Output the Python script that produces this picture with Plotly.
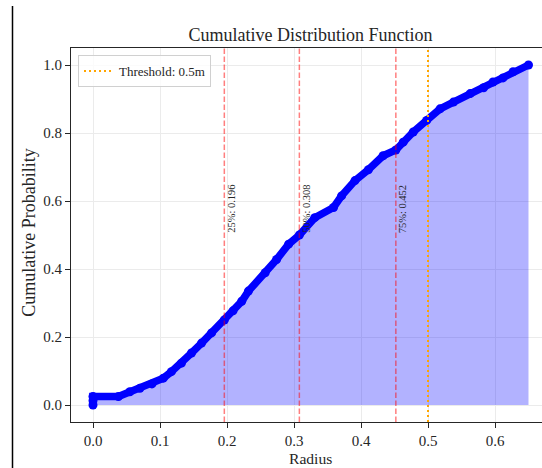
import plotly.graph_objects as go

# CDF curve
radius = [0.0, 0.0, 0.0, 0.038, 0.055, 0.070, 0.088, 0.105, 0.117, 0.132, 0.147, 0.162,
          0.177, 0.196, 0.209, 0.222, 0.232, 0.257, 0.274, 0.292, 0.308, 0.331, 0.359,
          0.371, 0.391, 0.411, 0.433, 0.452, 0.463, 0.478, 0.498, 0.518, 0.538, 0.563,
          0.583, 0.597, 0.612, 0.627, 0.650]
cum_prob = [0.0, 0.0125, 0.025, 0.025, 0.039, 0.049, 0.062, 0.079, 0.098, 0.123, 0.153, 0.182,
            0.212, 0.250, 0.277, 0.305, 0.335, 0.389, 0.428, 0.473, 0.500, 0.551, 0.581,
            0.615, 0.660, 0.692, 0.733, 0.750, 0.773, 0.803, 0.837, 0.871, 0.891, 0.916,
            0.933, 0.950, 0.962, 0.980, 1.000]

quart_labels = ["25%", "50%", "75%"]
quart_values = [0.196, 0.308, 0.452]
threshold = 0.5
x_ticks = [0.0, 0.1, 0.2, 0.3, 0.4, 0.5, 0.6]
y_ticks = [0.0, 0.2, 0.4, 0.6, 0.8, 1.0]

SERIF = "Liberation Serif, Times New Roman, serif"
TXT = "#262626"

fig = go.Figure()

# filled area
fig.add_trace(go.Scatter(x=radius, y=cum_prob, mode="lines", fill="tozeroy",
                         fillcolor="rgba(0,0,255,0.3)", line=dict(width=0),
                         showlegend=False, hoverinfo="skip"))
# thick marker curve
fig.add_trace(go.Scatter(x=radius, y=cum_prob, mode="lines+markers",
                         line=dict(color="#0000ff", width=7.5),
                         marker=dict(color="#0000ff", size=9),
                         showlegend=False))
# quartile lines
for q in quart_values:
    fig.add_trace(go.Scatter(x=[q, q], y=[-0.05, 1.05], mode="lines",
                             line=dict(color="rgba(255,0,0,0.5)", width=1.5, dash="5.5px,2.5px"),
                             showlegend=False, hoverinfo="skip"))
# threshold line
fig.add_trace(go.Scatter(x=[threshold, threshold], y=[-0.05, 1.05], mode="lines",
                         line=dict(color="#ffa500", width=2, dash="2px,3px"),
                         name=f"Threshold: {threshold}m"))

annotations = []
for lab, q in zip(quart_labels, quart_values):
    annotations.append(dict(x=q, y=0.5, xref="x", yref="y", text=f"{lab}: {q}",
                            textangle=-90, showarrow=False, xanchor="left", yanchor="bottom",
                            xshift=-1, font=dict(family=SERIF, size=10.5, color=TXT)))
# axis titles
annotations.append(dict(x=(310 - 71) / 471, y=-(458 - 422) / 374, xref="paper", yref="paper",
                        text="Radius", showarrow=False, xanchor="center", yanchor="middle",
                        font=dict(family=SERIF, size=15.6, color=TXT)))
annotations.append(dict(x=-(71 - 28.3) / 471, y=(422 - 232.5) / 374, xref="paper", yref="paper",
                        text="Cumulative Probability", showarrow=False, textangle=-90,
                        xanchor="center", yanchor="middle",
                        font=dict(family=SERIF, size=18, color=TXT)))

axis_common = dict(showline=True, linecolor="#262626", linewidth=1.2, ticks="outside",
                   ticklen=5, tickwidth=1.2, tickcolor="#262626", showgrid=True,
                   gridcolor="#ebebeb", gridwidth=1, zeroline=False,
                   tickfont=dict(family=SERIF, size=15, color=TXT))

fig.update_layout(
    width=542, height=468,
    margin=dict(l=71, r=0, t=48, b=46, pad=0),
    plot_bgcolor="white", paper_bgcolor="white",
    title=dict(text="Cumulative Distribution Function", xref="paper", x=(310.5 - 71) / 471,
               xanchor="center", yref="container", y=1 - 35 / 468, yanchor="middle",
               font=dict(family=SERIF, size=18, color=TXT)),
    xaxis=dict(range=[-22 / 670, 449 / 670], tickvals=x_ticks,
               ticktext=[f"{v:.1f}" for v in x_ticks], mirror=True, **axis_common),
    yaxis=dict(range=[-0.05, 1.05], tickvals=y_ticks,
               ticktext=[f"{v:.1f}" for v in y_ticks], mirror=False, **axis_common),
    legend=dict(x=(78 - 71) / 471, y=(422 - 55) / 374, xanchor="left", yanchor="top",
                bgcolor="rgba(255,255,255,0.8)", bordercolor="#d0d0d0", borderwidth=1,
                font=dict(family=SERIF, size=13, color=TXT), itemwidth=30,
                tracegroupgap=0),
    annotations=annotations,
    shapes=[dict(type="line", xref="paper", yref="paper",
                 x0=-(71 - 12.5) / 471, x1=-(71 - 12.5) / 471,
                 y0=(422 - 6) / 374, y1=-(468 - 422) / 374 - 0.01,
                 line=dict(color="#000000", width=1.5))],
    showlegend=True,
)

fig.write_html("out.html")
